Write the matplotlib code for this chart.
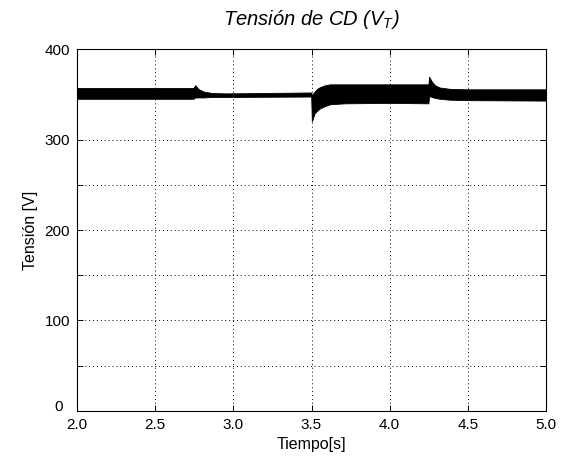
import numpy as np
import matplotlib
matplotlib.use('Agg')
import matplotlib.pyplot as plt
from matplotlib.ticker import MultipleLocator, FuncFormatter

plt.rcParams['font.family'] = ['Liberation Sans', 'DejaVu Sans']
plt.rcParams['mathtext.fontset'] = 'custom'
plt.rcParams['mathtext.it'] = 'Liberation Sans:italic'
plt.rcParams['mathtext.rm'] = 'Liberation Sans'

# Envolvente del rizado de la tension del bus de CD
tiempo = [2.0, 2.745, 2.755, 2.78, 2.81, 2.86, 2.95, 3.498, 3.502, 3.52, 3.54,
          3.555, 3.587, 3.62, 3.715, 4.0, 4.248, 4.252, 4.27, 4.29, 4.32,
          4.386, 4.5, 5.0]
v_max = [357, 357, 360, 355.5, 353, 351.5, 351, 352, 349, 353, 356.5,
         358, 360, 361, 361, 361, 361, 369.5, 364, 360, 357.5,
         356, 355.5, 355.5]
v_min = [345, 345, 346.5, 346.5, 346.5, 347, 347, 347.5, 320, 329, 332.5,
         334.5, 337, 339, 340, 340.5, 340, 348, 347, 346, 345,
         344, 343.5, 343]

x_ticks = [2.0, 2.5, 3.0, 3.5, 4.0, 4.5, 5.0]

fig = plt.figure(figsize=(5.63, 4.57), dpi=100)
ax = fig.add_axes([0.1368, 0.1007, 0.833, 0.792])

ax.fill_between(tiempo, v_min, v_max, color='black', linewidth=0.6, zorder=3)

ax.set_xlim(2.0, 5.0)
ax.set_ylim(0, 400)
ax.set_xticks(x_ticks)
ax.xaxis.set_major_formatter(FuncFormatter(lambda v, p: '%.1f' % v))
ax.yaxis.set_major_locator(MultipleLocator(50))
# el cero se escribe aparte, corrido a la izquierda
ax.yaxis.set_major_formatter(FuncFormatter(lambda v, p: '%d' % v if v % 100 == 0 and v > 0 else ''))
ax.annotate('0', xy=(0, 0), xycoords='axes fraction', xytext=(-10.5, 3),
            textcoords='offset points', ha='right', va='center', fontsize=11)

ax.grid(True, color='black', linestyle=(0, (1, 3)), linewidth=0.7)
ax.set_axisbelow(True)
ax.tick_params(direction='in', top=True, right=True, length=4, width=0.7,
               labelsize=11)
ax.tick_params(axis='x', pad=5)
ax.tick_params(axis='y', pad=5)
for s in ax.spines.values():
    s.set_linewidth(0.8)

ax.set_xlabel('Tiempo[s]', fontsize=11.5, labelpad=4)
ax.set_ylabel('Tensión [V]', fontsize=11.5, labelpad=5)
ax.set_title('Tensión de CD ($V_T$)', fontsize=14.5, style='italic', pad=17)

fig.savefig('out.png', dpi=100)
